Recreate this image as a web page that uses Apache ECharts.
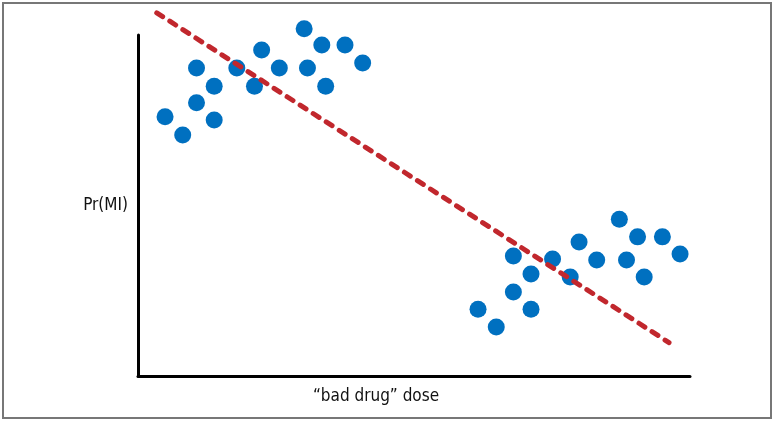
<!DOCTYPE html>
<html>
<head>
<meta charset="utf-8">
<script src="https://cdn.jsdelivr.net/npm/echarts@6/dist/echarts.min.js"></script>
<style>
  html, body { margin: 0; padding: 0; background: #fff; }
  #chart { width: 773px; height: 421px; }
</style>
</head>
<body>
<div id="chart"></div>
<script>
// 剂量 (x) 与 Pr(MI) (y)，两团点 + 一条向下的趋势虚线
var lowDoseX = [4.9, 8.1, 10.6, 13.8, 10.6, 13.8, 17.9, 21.1, 22.4, 25.6, 30.1, 33.3, 30.7, 34.0, 37.5, 40.7];
var lowDoseY = [76.0, 70.7, 90.3, 85.0, 80.1, 75.1, 90.3, 85.0, 95.6, 90.3, 101.8, 97.1, 90.3, 85.0, 97.1, 91.8];
var highDoseX = [61.6, 64.9, 68.0, 71.2, 68.0, 71.2, 75.1, 78.3, 79.9, 83.1, 87.2, 90.5, 88.5, 91.7, 95.0, 98.2];
var highDoseY = [19.6, 14.4, 35.2, 29.9, 24.6, 19.6, 34.3, 29.0, 39.3, 34.0, 46.0, 40.8, 34.0, 29.0, 40.8, 35.8];
var trendX = [3.4, 96.2];
var trendY = [106.5, 9.8];

var xName = '“bad drug” dose';
var yName = 'Pr(MI)';

function pairs(xs, ys) {
  var out = [];
  for (var i = 0; i < xs.length; i++) out.push([xs[i], ys[i]]);
  return out;
}

var font = '"DejaVu Sans Condensed", "Liberation Sans Narrow", "Liberation Sans", sans-serif';
var chart = echarts.init(document.getElementById('chart'), null, { renderer: 'canvas' });

chart.setOption({
  animation: false,
  backgroundColor: '#fff',
  grid: { left: 138, right: 83, top: 35, bottom: 45 },
  xAxis: {
    type: 'value', min: 0, max: 100,
    name: xName, nameLocation: 'middle', nameGap: 12,
    nameTextStyle: { color: '#111', fontSize: 17, fontFamily: font, padding: [0, 76, 0, 0] },
    axisLine: { lineStyle: { color: '#000', width: 3 } },
    axisTick: { show: false }, axisLabel: { show: false }, splitLine: { show: false }
  },
  yAxis: {
    type: 'value', min: 0, max: 100,
    name: yName, nameLocation: 'middle', nameGap: 10, nameRotate: 0,
    nameTextStyle: { color: '#111', fontSize: 17, fontFamily: font, padding: [8, 0, 0, 0] },
    axisLine: { show: true, lineStyle: { color: '#000', width: 3 } },
    axisTick: { show: false }, axisLabel: { show: false }, splitLine: { show: false }
  },
  graphic: [{
    type: 'rect',
    shape: { x: 3, y: 3, width: 768, height: 415 },
    style: { fill: null, stroke: '#777', lineWidth: 2 },
    z: 100
  }],
  series: [
    {
      type: 'scatter', clip: false, symbolSize: 17,
      itemStyle: { color: '#0070c0', opacity: 1 },
      data: pairs(lowDoseX, lowDoseY)
    },
    {
      type: 'scatter', clip: false, symbolSize: 17,
      itemStyle: { color: '#0070c0', opacity: 1 },
      data: pairs(highDoseX, highDoseY)
    },
    {
      type: 'line', clip: false, symbol: 'none', z: 5,
      lineStyle: { color: '#c1272d', width: 5, type: [7, 8.5], cap: 'round' },
      data: pairs(trendX, trendY)
    }
  ]
});
</script>
</body>
</html>
